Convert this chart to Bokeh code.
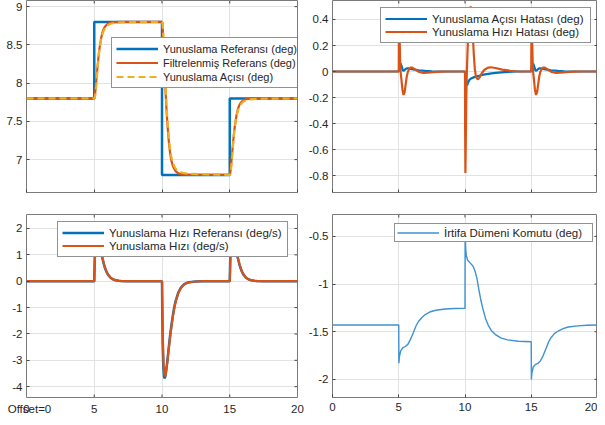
from bokeh.plotting import figure
from bokeh.layouts import column, row
from bokeh.models import Range1d, FixedTicker, Legend, LegendItem
from bokeh.embed import file_html
from bokeh.resources import INLINE

FONT = "Liberation Sans"
BLUE = "#0072BD"
ORANGE = "#D95319"
YELLOW = "#EDB120"
TXT = "#262626"

# ---------------- data ----------------
x_ticks = [0, 5, 10, 15, 20]
x_tick_labels = ["0", "5", "10", "15", "20"]
offset_note = "Offset=0"
offset_note_x = 0.22

# Top-left: pitch angle tracking
tl_yticks = [7, 7.5, 8, 8.5, 9]
tl_ylabels = ["7", "7.5", "8", "8.5", "9"]
pitch_ref_t = [0, 5, 5, 10, 10, 15, 15, 20]
pitch_ref = [7.8, 7.8, 8.8, 8.8, 6.8, 6.8, 7.8, 7.8]
filt_t = [0,
          5, 5.05, 5.1, 5.15, 5.2, 5.25, 5.3, 5.35, 5.4, 5.5, 5.6, 5.7, 5.8, 5.9, 6.0, 6.2, 6.5, 7.0,
          10, 10.05, 10.1, 10.15, 10.2, 10.25, 10.3, 10.35, 10.4, 10.5, 10.6, 10.7, 10.8, 10.9, 11.0, 11.2, 11.5, 12.0,
          15, 15.05, 15.1, 15.15, 15.2, 15.25, 15.3, 15.35, 15.4, 15.5, 15.6, 15.7, 15.8, 15.9, 16.0, 16.2, 16.5, 17.0,
          20]
filt_ref = [7.8,
            7.8, 7.84, 7.93, 8.03, 8.13, 8.23, 8.32, 8.40, 8.47, 8.58, 8.66, 8.71, 8.74, 8.76, 8.775, 8.79, 8.797, 8.8,
            8.8, 8.72, 8.54, 8.34, 8.14, 7.94, 7.76, 7.60, 7.46, 7.24, 7.08, 6.98, 6.92, 6.88, 6.85, 6.82, 6.806, 6.8,
            6.8, 6.84, 6.93, 7.03, 7.13, 7.23, 7.32, 7.40, 7.47, 7.58, 7.66, 7.71, 7.74, 7.76, 7.775, 7.79, 7.797, 7.8,
            7.8]
pitch_angle = [7.8,
               7.8, 7.81, 7.88, 7.97, 8.085, 8.2, 8.308, 8.394, 8.462, 8.562, 8.636, 8.686, 8.718, 8.74, 8.757, 8.776, 8.787, 8.795,
               8.8, 8.77, 8.63, 8.448, 8.235, 8.02, 7.83, 7.663, 7.518, 7.292, 7.127, 7.023, 6.96, 6.917, 6.884, 6.849, 6.828, 6.814,
               6.8, 6.81, 6.88, 6.97, 7.085, 7.2, 7.308, 7.394, 7.462, 7.562, 7.636, 7.686, 7.718, 7.74, 7.757, 7.776, 7.787, 7.795,
               7.8]

# Top-right: errors
tr_yticks = [-0.8, -0.6, -0.4, -0.2, 0, 0.2, 0.4]
tr_ylabels = ["-0.8", "-0.6", "-0.4", "-0.2", "0", "0.2", "0.4"]
ang_err_t = [0,
             5, 5.05, 5.1, 5.15, 5.2, 5.25, 5.3, 5.35, 5.4, 5.5, 5.6, 5.7, 5.8, 5.9, 6.0, 6.2, 6.5, 7.0, 7.5, 8.0,
             10, 10.05, 10.1, 10.15, 10.2, 10.25, 10.3, 10.35, 10.4, 10.5, 10.6, 10.7, 10.8, 10.9, 11.0, 11.2, 11.5, 12.0, 12.5, 13.0, 14.0,
             15, 15.05, 15.1, 15.15, 15.2, 15.25, 15.3, 15.35, 15.4, 15.5, 15.6, 15.7, 15.8, 15.9, 16.0, 16.2, 16.5, 17.0, 17.5, 18.0,
             20]
ang_err = [0,
           0, 0.03, 0.05, 0.06, 0.045, 0.03, 0.012, 0.006, 0.008, 0.018, 0.024, 0.024, 0.022, 0.02, 0.018, 0.014, 0.01, 0.005, 0.002, 0,
           0, -0.05, -0.09, -0.108, -0.095, -0.08, -0.07, -0.063, -0.058, -0.052, -0.047, -0.043, -0.04, -0.037, -0.034, -0.029, -0.022, -0.014, -0.008, -0.004, 0,
           0, 0.03, 0.05, 0.06, 0.045, 0.03, 0.012, 0.006, 0.008, 0.018, 0.024, 0.024, 0.022, 0.02, 0.018, 0.014, 0.01, 0.005, 0.002, 0,
           0]
rate_err_t = [0,
              5, 5.01, 5.03, 5.06, 5.1, 5.14, 5.2, 5.28, 5.36, 5.44, 5.52, 5.6, 5.68, 5.78, 5.9, 6.0, 6.15, 6.35, 6.55, 6.85, 7.2, 7.6, 8.2, 8.8,
              10, 10.01, 10.03, 10.06, 10.1, 10.14, 10.2, 10.28, 10.36, 10.43, 10.5, 10.58, 10.66, 10.74, 10.82, 10.9, 10.98, 11.1, 11.25, 11.45, 11.7, 11.95, 12.3, 12.8, 13.4, 14.0,
              15, 15.01, 15.03, 15.06, 15.1, 15.14, 15.2, 15.28, 15.36, 15.44, 15.52, 15.6, 15.68, 15.78, 15.9, 16.0, 16.15, 16.35, 16.55, 16.85, 17.2, 17.6, 18.2, 18.8,
              20]
rate_err = [0,
            0, 0.25, 0.42, 0.3, 0.1, 0.0, -0.06, -0.14, -0.18, -0.16, -0.1, -0.04, -0.005, 0.018, 0.03, 0.031, 0.022, 0.008, -0.004, -0.01, -0.008, -0.004, -0.001, 0,
            0, -0.45, -0.78, -0.55, -0.2, 0.0, 0.18, 0.36, 0.47, 0.5, 0.45, 0.3, 0.14, 0.02, -0.035, -0.055, -0.06, -0.045, -0.015, 0.012, 0.028, 0.033, 0.027, 0.015, 0.006, 0,
            0, 0.25, 0.42, 0.3, 0.1, 0.0, -0.06, -0.14, -0.18, -0.16, -0.1, -0.04, -0.005, 0.018, 0.03, 0.031, 0.022, 0.008, -0.004, -0.01, -0.008, -0.004, -0.001, 0,
            0]

# Bottom-left: pitch rate
bl_yticks = [-4, -3, -2, -1, 0, 1, 2]
bl_ylabels = ["-4", "-3", "-2", "-1", "0", "1", "2"]
rate_ref_t = [0,
              5, 5.03, 5.08, 5.15, 5.2, 5.25, 5.3, 5.4, 5.5, 5.6, 5.7, 5.8, 5.9, 6.0, 6.2, 6.4, 6.6, 6.8, 7.0, 7.5, 8.0,
              10, 10.02, 10.05, 10.1, 10.15, 10.2, 10.25, 10.3, 10.4, 10.5, 10.6, 10.7, 10.8, 10.9, 11.0, 11.2, 11.4, 11.6, 11.8, 12.0, 12.5, 13.0,
              15, 15.03, 15.08, 15.15, 15.2, 15.25, 15.3, 15.4, 15.5, 15.6, 15.7, 15.8, 15.9, 16.0, 16.2, 16.4, 16.6, 16.8, 17.0, 17.5, 18.0,
              20]
rate_ref = [0,
            0, 0.75, 1.5, 1.8, 1.84, 1.8, 1.7, 1.42, 1.12, 0.87, 0.66, 0.49, 0.36, 0.26, 0.13, 0.065, 0.033, 0.016, 0.008, 0.001, 0,
            0, -1.2, -2.4, -3.3, -3.62, -3.68, -3.6, -3.42, -3.0, -2.5, -2.05, -1.65, -1.3, -1.0, -0.76, -0.43, -0.24, -0.13, -0.07, -0.04, -0.01, 0,
            0, 0.75, 1.5, 1.8, 1.84, 1.8, 1.7, 1.42, 1.12, 0.87, 0.66, 0.49, 0.36, 0.26, 0.13, 0.065, 0.033, 0.016, 0.008, 0.001, 0,
            0]
rate_t = [0,
          5, 5.03, 5.08, 5.15, 5.22, 5.28, 5.33, 5.43, 5.53, 5.63, 5.73, 5.83, 5.93, 6.03, 6.23, 6.43, 6.63, 6.83, 7.03, 7.5, 8.0,
          10, 10.03, 10.07, 10.12, 10.18, 10.23, 10.28, 10.33, 10.43, 10.53, 10.63, 10.73, 10.83, 10.93, 11.03, 11.23, 11.43, 11.63, 11.83, 12.03, 12.5, 13.0,
          15, 15.03, 15.08, 15.15, 15.22, 15.28, 15.33, 15.43, 15.53, 15.63, 15.73, 15.83, 15.93, 16.03, 16.23, 16.43, 16.63, 16.83, 17.03, 17.5, 18.0,
          20]
rate = [0,
        0, 0.5, 1.3, 1.72, 1.82, 1.78, 1.68, 1.38, 1.08, 0.84, 0.63, 0.47, 0.34, 0.25, 0.125, 0.062, 0.03, 0.015, 0.007, 0.001, 0,
        0, -1.0, -2.3, -3.2, -3.55, -3.6, -3.5, -3.33, -2.92, -2.43, -2.0, -1.6, -1.26, -0.97, -0.74, -0.42, -0.23, -0.125, -0.068, -0.039, -0.01, 0,
        0, 0.5, 1.3, 1.72, 1.82, 1.78, 1.68, 1.38, 1.08, 0.84, 0.63, 0.47, 0.34, 0.25, 0.125, 0.062, 0.03, 0.015, 0.007, 0.001, 0,
        0]

# Bottom-right: elevator command
br_yticks = [-2, -1.5, -1, -0.5]
br_ylabels = ["-2", "-1.5", "-1", "-0.5"]
elev_t = [0, 5, 5.01, 5.05, 5.15, 5.3, 5.5, 5.7, 5.9, 6.1, 6.3, 6.5, 6.75, 7.0, 7.4, 7.8, 8.5, 9.2, 10,
          10.01, 10.05, 10.1, 10.2, 10.4, 10.6, 10.75, 10.9, 11.05, 11.2, 11.35, 11.55, 11.75, 12.0, 12.3, 12.7, 13.2, 14.0, 15,
          15.01, 15.05, 15.15, 15.3, 15.5, 15.7, 15.9, 16.1, 16.3, 16.5, 16.75, 17.0, 17.4, 17.8, 18.5, 19.2, 20]
elev = [-1.43, -1.43, -1.83, -1.76, -1.70, -1.67, -1.655, -1.63, -1.575, -1.51, -1.44, -1.39, -1.35, -1.32, -1.29, -1.275, -1.262, -1.257, -1.255,
        -0.42, -0.62, -0.70, -0.75, -0.78, -0.81, -0.86, -0.94, -1.06, -1.17, -1.26, -1.36, -1.43, -1.49, -1.53, -1.565, -1.585, -1.60, -1.605,
        -2.0, -1.93, -1.87, -1.845, -1.833, -1.805, -1.75, -1.68, -1.61, -1.56, -1.52, -1.495, -1.468, -1.45, -1.438, -1.432, -1.43]


# ---------------- helpers ----------------
def make_fig(width, height, yr, yticks, ylabels, mb, show_xlabels, frame_w, frame_h, extra_x=None):
    p = figure(width=width, height=height, x_range=Range1d(0, 20), y_range=Range1d(*yr),
               output_backend="svg", toolbar_location=None,
               min_border_left=mb[0], min_border_right=mb[1],
               min_border_top=mb[2], min_border_bottom=mb[3])
    p.background_fill_color = "white"
    p.border_fill_color = "white"
    p.outline_line_color = "#7a7a7a"
    p.outline_line_width = 1
    xt = list(x_ticks)
    xl = dict(zip(x_ticks, x_tick_labels))
    if extra_x is not None:
        xt = [extra_x[0]] + xt
        xl[extra_x[0]] = extra_x[1]
    p.xaxis.ticker = FixedTicker(ticks=xt)
    p.xgrid.ticker = FixedTicker(ticks=x_ticks)
    p.yaxis.ticker = FixedTicker(ticks=yticks)
    p.xaxis.major_label_overrides = xl
    p.yaxis.major_label_overrides = dict(zip(yticks, ylabels))
    for ax in p.xaxis + p.yaxis:
        ax.axis_line_color = None
        ax.major_tick_in = 3
        ax.major_tick_out = 0
        ax.major_tick_line_color = "#444444"
        ax.minor_tick_line_color = None
        ax.major_label_text_font = FONT
        ax.major_label_text_font_size = "11.5px"
        ax.major_label_text_color = TXT
    p.yaxis.major_label_standoff = 4
    p.xaxis.major_label_standoff = 5
    if extra_x is not None:
        p.xaxis.major_tick_in = 0
    if not show_xlabels:
        p.xaxis.major_label_text_color = None
    p.xgrid.grid_line_color = "#e2e2e2"
    p.ygrid.grid_line_color = "#e2e2e2"
    # inward tick marks on the top, bottom and right edges (box style)
    dx = 3 * 20.0 / frame_w
    dy = 3 * (yr[1] - yr[0]) / frame_h
    inner_x = [t for t in x_ticks if 0 < t < 20]
    p.segment(x0=inner_x, y0=[yr[1]] * len(inner_x), x1=inner_x, y1=[yr[1] - dy] * len(inner_x),
              line_color="#444444", line_width=1)
    if extra_x is not None:
        p.segment(x0=inner_x, y0=[yr[0]] * len(inner_x), x1=inner_x, y1=[yr[0] + dy] * len(inner_x),
                  line_color="#444444", line_width=1)
    p.segment(x0=[20] * len(yticks), y0=yticks, x1=[20 - dx] * len(yticks), y1=yticks,
              line_color="#444444", line_width=1)
    return p


def add_legend(p, items, loc, label_width, padding=4, spacing=1, size="11.5px"):
    leg = Legend(items=items, location=loc, orientation="vertical",
                 label_text_font=FONT, label_text_font_size=size, label_text_color=TXT,
                 glyph_width=42, glyph_height=13, label_height=13, label_standoff=5,
                 padding=padding, spacing=spacing, margin=0, label_width=label_width,
                 border_line_color="#262626", border_line_width=1,
                 background_fill_color="white", background_fill_alpha=1.0)
    p.add_layout(leg)


# ---------------- top-left ----------------
p1 = make_fig(305, 210, (6.57, 9.08), tl_yticks, tl_ylabels, (26, 8, 0, 18), False, 271, 192)
r1a = p1.line(pitch_ref_t, pitch_ref, line_color=BLUE, line_width=2.5)
r1b = p1.line(filt_t, filt_ref, line_color=ORANGE, line_width=2.2)
r1c = p1.line(filt_t, pitch_angle, line_color=YELLOW, line_width=2.2, line_dash="7 4")
add_legend(p1, [LegendItem(label="Yunuslama Referansı (deg)", renderers=[r1a]),
                LegendItem(label="Filtrelenmiş Referans (deg)", renderers=[r1b]),
                LegendItem(label="Yunuslama Açısı (deg)", renderers=[r1c])],
           (85, 104), 133, size="11px")

# ---------------- top-right ----------------
p2 = make_fig(292, 210, (-0.93, 0.546), tr_yticks, tr_ylabels, (26, 0, 0, 18), False, 266, 192)
r2a = p2.line(ang_err_t, ang_err, line_color=BLUE, line_width=2.2)
r2b = p2.line(rate_err_t, rate_err, line_color=ORANGE, line_width=2.2)
add_legend(p2, [LegendItem(label="Yunuslama Açısı Hatası (deg)", renderers=[r2a]),
                LegendItem(label="Yunuslama Hızı Hatası (deg)", renderers=[r2b])],
           (48, 149), 154, spacing=0)

# ---------------- bottom-left ----------------
p3 = make_fig(305, 207, (-4.41, 2.53), bl_yticks, bl_ylabels, (26, 8, 4, 20), True, 271, 183,
              extra_x=(offset_note_x, offset_note))
r3a = p3.line(rate_ref_t, rate_ref, line_color=BLUE, line_width=2.5)
r3b = p3.line(rate_t, rate, line_color=ORANGE, line_width=2.2)
add_legend(p3, [LegendItem(label="Yunuslama Hızı Referansı (deg/s)", renderers=[r3a]),
                LegendItem(label="Yunuslama Hızı (deg/s)", renderers=[r3b])],
           (31, 140), 174, spacing=0)

# ---------------- bottom-right ----------------
p4 = make_fig(292, 207, (-2.19, -0.27), br_yticks, br_ylabels, (26, 0, 4, 20), True, 266, 183)
r4 = p4.line(elev_t, elev, line_color="#3d92d2", line_width=1.4)
add_legend(p4, [LegendItem(label="İrtifa Dümeni Komutu (deg)", renderers=[r4])],
           (62, 155), 146, padding=2, spacing=0)

layout = column(row(p1, p2), row(p3, p4))

open("out.html", "w").write(file_html(layout, INLINE))
